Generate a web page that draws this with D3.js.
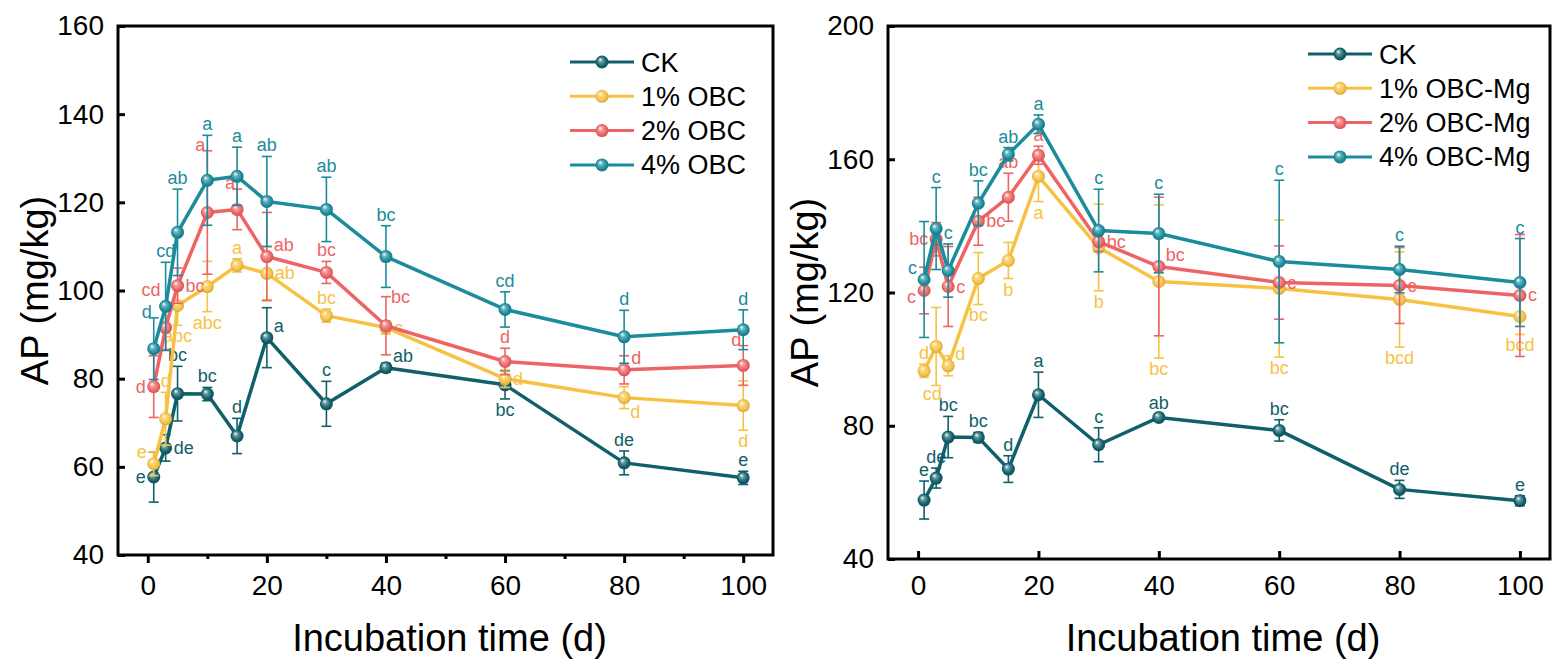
<!DOCTYPE html>
<html>
<head>
<meta charset="utf-8">
<script src="https://cdn.jsdelivr.net/npm/d3@7"></script>
<style>
  body { margin: 0; background: #fff; }
  svg { display: block; font-family: "Liberation Sans", Arial, sans-serif; }
</style>
</head>
<body>
<svg id="chart" width="1559" height="667"></svg>
<script>
// incubation days
const days = [1, 3, 5, 10, 15, 20, 30, 40, 60, 80, 100];

// CK (same in both panels)
const ckMean = [57.7, 64.3, 76.6, 76.5, 67.0, 89.3, 74.3, 82.5, 78.6, 60.9, 57.5];
const ckSd = [5.7, 3.0, 6.2, 1.5, 4.0, 6.8, 5.1, 1.0, 3.2, 2.7, 1.5];
const ckLetters = ['e', 'de', 'bc', 'bc', 'd', 'a', 'c', 'ab', 'bc', 'de', 'e'];

// left panel: OBC
const obc1Mean = [60.7, 70.9, 96.6, 100.9, 105.7, 103.9, 94.3, 91.6, 80.0, 75.7, 73.9];
const obc1Sd = [2.7, 6.0, 4.5, 5.7, 1.5, 6.0, 1.5, 1.5, 2.0, 2.5, 5.6];
const obc1Letters = ['e', 'd', 'abc', 'abc', 'a', 'ab', 'bc', 'c', 'd', 'd', 'd'];

const obc2Mean = [78.2, 91.6, 101.1, 117.7, 118.4, 107.7, 104.1, 92.0, 83.9, 82.0, 83.0];
const obc2Sd = [7.0, 5.0, 4.0, 14.0, 4.6, 10.0, 2.5, 6.6, 3.0, 3.2, 4.5];
const obc2Letters = ['d', 'cd', 'bc', 'a', 'a', 'ab', 'bc', 'bc', 'd', 'd', 'd'];

const obc4Mean = [86.8, 96.4, 113.2, 125.0, 125.9, 120.2, 118.4, 107.7, 95.7, 89.5, 91.1];
const obc4Sd = [7.0, 10.0, 9.8, 10.2, 6.6, 10.2, 7.3, 7.0, 4.0, 6.0, 4.5];
const obc4Letters = ['d', 'cd', 'ab', 'a', 'a', 'ab', 'ab', 'bc', 'cd', 'd', 'd'];

// right panel: OBC-Mg
const mg1Mean = [96.5, 103.8, 98.0, 124.2, 129.6, 154.9, 133.5, 123.3, 121.2, 117.9, 112.8];
const mg1Sd = [2.0, 11.7, 3.0, 7.8, 5.4, 7.6, 13.0, 23.0, 20.6, 14.3, 5.4];
const mg1Letters = ['d', 'cd', 'd', 'bc', 'b', 'a', 'b', 'bc', 'bc', 'bcd', 'bcd'];

const mg2Mean = [120.6, 136.0, 121.8, 141.4, 148.6, 161.2, 135.3, 127.8, 123.0, 122.1, 119.1];
const mg2Sd = [7.0, 5.0, 12.0, 7.2, 7.2, 2.7, 3.0, 20.8, 11.0, 11.4, 18.3];
const mg2Letters = ['c', 'bc', 'c', 'bc', 'ab', 'a', 'bc', 'bc', 'c', 'c', 'c'];

const mg4Mean = [123.9, 139.2, 126.6, 146.8, 161.5, 170.5, 138.6, 137.7, 129.3, 126.9, 123.0];
const mg4Sd = [17.4, 12.3, 8.0, 6.7, 2.0, 2.8, 12.4, 11.8, 24.4, 7.0, 13.2];
const mg4Letters = ['c', 'c', 'c', 'bc', 'ab', 'a', 'c', 'c', 'c', 'c', 'c'];

const leftLegend = ['CK', '1% OBC', '2% OBC', '4% OBC'];
const rightLegend = ['CK', '1% OBC-Mg', '2% OBC-Mg', '4% OBC-Mg'];
const xTicks = [0, 20, 40, 60, 80, 100];
const leftYTicks = [40, 60, 80, 100, 120, 140, 160];
const rightYTicks = [40, 80, 120, 160, 200];

// where each letter sits relative to its point (a above, b below, l/r side, u/d corners)
const ckSideL = ['l', 'r', 'a', 'a', 'a', 'ur', 'a', 'ur', 'b', 'a', 'a'];
const obc1Side = ['ul', 'a', 'b', 'b', 'a', 'r', 'a', 'r', 'r', 'dr', 'b'];
const obc2Side = ['l', 'uul', 'r', 'al', 'al', 'ur', 'a', 'ar', 'a', 'ur', 'al'];
const obc4Side = ['al', 'a', 'a', 'a', 'a', 'a', 'a', 'a', 'a', 'a', 'a'];
const ckSideR = ['a', 'a', 'a', 'a', 'a', 'a', 'a', 'a', 'a', 'a', 'a'];
const mg1Side = ['a', 'bl', 'ur', 'b', 'b', 'b', 'b', 'b', 'b', 'b', 'b'];
const mg2Side = ['dl', 'l', 'r', 'r', 'a', 'a', 'r', 'ur', 'r', 'r', 'r'];
const mg4Side = ['ul', 'a', 'a', 'a', 'a', 'a', 'a', 'a', 'a', 'a', 'a'];

const colors = ['#10606a', '#f7c244', '#ee6464', '#1b8c9c'];

const svg = d3.select('#chart');
const defs = svg.append('defs');

colors.forEach((c, i) => {
  const grad = defs.append('radialGradient')
    .attr('id', `ball${i}`)
    .attr('cx', '50%').attr('cy', '50%').attr('r', '55%')
    .attr('fx', '35%').attr('fy', '30%');
  grad.append('stop').attr('offset', '0%').attr('stop-color', '#ffffff');
  grad.append('stop').attr('offset', '30%').attr('stop-color', d3.interpolateRgb(c, '#fff')(0.35));
  grad.append('stop').attr('offset', '70%').attr('stop-color', c);
  grad.append('stop').attr('offset', '100%').attr('stop-color', d3.color(c).darker(0.6));
});

function drawPanel(p) {
  const x = d3.scaleLinear().domain([-5, 105]).range([p.left, p.right]);
  const y = d3.scaleLinear().domain(p.yDomain).range([p.bottom, p.top]);
  const g = svg.append('g');

  const yAxis = g.append('g')
    .attr('transform', `translate(${p.left},0)`)
    .call(d3.axisLeft(y).tickValues(p.yTicks).tickSizeInner(-7).tickSizeOuter(0).tickPadding(14));

  const xAxis = g.append('g')
    .attr('transform', `translate(0,${p.bottom})`)
    .call(d3.axisBottom(x).tickValues(xTicks).tickSizeInner(p.xTickSize).tickSizeOuter(0)
      .tickPadding(p.xTickSize > 0 ? 12 : 16));

  if (p.minor) {
    g.append('g')
      .attr('transform', `translate(0,${p.bottom})`)
      .call(d3.axisBottom(x).tickValues([10, 30, 50, 70, 90]).tickSize(4).tickFormat(''))
      .call(a => a.select('.domain').remove())
      .selectAll('line').attr('stroke-width', 3);
  }

  [yAxis, xAxis].forEach(a => {
    a.select('.domain').remove();
    a.selectAll('line').attr('stroke-width', 3);
    a.selectAll('text').attr('font-size', 28).attr('fill', '#000')
      .attr('font-family', '"Liberation Sans", Arial, sans-serif');
  });

  g.append('rect')
    .attr('x', p.left).attr('y', p.top)
    .attr('width', p.right - p.left).attr('height', p.bottom - p.top)
    .attr('fill', 'none').attr('stroke', '#000').attr('stroke-width', 3);

  const line = d3.line().x(d => x(d.t)).y(d => y(d.v));

  p.series.forEach((s, si) => {
    const pts = days.map((t, i) => ({ t, v: s.mean[i], sd: s.sd[i], lab: s.letters[i], side: s.side[i] }));
    const col = colors[si];
    const sg = g.append('g');

    const eb = sg.selectAll('.eb').data(pts).enter().append('g')
      .attr('stroke', col).attr('stroke-width', 1.6);
    eb.append('line')
      .attr('x1', d => x(d.t)).attr('x2', d => x(d.t))
      .attr('y1', d => y(d.v - d.sd)).attr('y2', d => y(d.v + d.sd));
    eb.append('line')
      .attr('x1', d => x(d.t) - 5).attr('x2', d => x(d.t) + 5)
      .attr('y1', d => y(d.v + d.sd)).attr('y2', d => y(d.v + d.sd));
    eb.append('line')
      .attr('x1', d => x(d.t) - 5).attr('x2', d => x(d.t) + 5)
      .attr('y1', d => y(d.v - d.sd)).attr('y2', d => y(d.v - d.sd));

    sg.append('path').datum(pts)
      .attr('d', line).attr('fill', 'none')
      .attr('stroke', col).attr('stroke-width', 3.5).attr('stroke-linejoin', 'round');

    sg.selectAll('circle').data(pts).enter().append('circle')
      .attr('cx', d => x(d.t)).attr('cy', d => y(d.v)).attr('r', 6.5)
      .attr('fill', `url(#ball${si})`);

    sg.selectAll('.lab').data(pts).enter().append('text')
      .attr('font-size', 18).attr('fill', col)
      .each(function (d) {
        const px = x(d.t), py = y(d.v), top = y(d.v + d.sd), bot = y(d.v - d.sd);
        let tx = px, ty = py, anchor = 'middle';
        switch (d.side) {
          case 'a': ty = top - 5; break;
          case 'b': ty = bot + 17; break;
          case 'bl': tx = px - 4; ty = bot + 15; break;
          case 'l': tx = px - 8; ty = py + 6; anchor = 'end'; break;
          case 'r': tx = px + 8; ty = py + 6; anchor = 'start'; break;
          case 'al': tx = px - 2; ty = top; anchor = 'end'; break;
          case 'ar': tx = px + 5; ty = top + 6; anchor = 'start'; break;
          case 'ul': tx = px - 7; ty = py - 6; anchor = 'end'; break;
          case 'uul': tx = px - 5; ty = py - 32; anchor = 'end'; break;
          case 'dl': tx = px - 8; ty = py + 12; anchor = 'end'; break;
          case 'ur': tx = px + 7; ty = py - 6; anchor = 'start'; break;
          case 'dr': tx = px + 6; ty = py + 20; anchor = 'start'; break;
        }
        d3.select(this).attr('x', tx).attr('y', ty).attr('text-anchor', anchor).text(d.lab);
      });
  });

  // legend
  const lg = g.append('g');
  p.legend.forEach((name, i) => {
    const cy = p.legendY + i * 34.3;
    lg.append('line')
      .attr('x1', p.legendX).attr('x2', p.legendX + 64)
      .attr('y1', cy).attr('y2', cy)
      .attr('stroke', colors[i]).attr('stroke-width', 3);
    lg.append('circle')
      .attr('cx', p.legendX + 32).attr('cy', cy).attr('r', 6.5)
      .attr('fill', `url(#ball${i})`);
    lg.append('text')
      .attr('x', p.legendX + 71).attr('y', cy + 9.5)
      .attr('font-size', 27).attr('fill', '#000')
      .text(name);
  });

  g.append('text')
    .attr('transform', `translate(${p.left - 70},${(p.top + p.bottom) / 2}) rotate(-90)`)
    .attr('text-anchor', 'middle').attr('font-size', 38).attr('fill', '#000')
    .text('AP (mg/kg)');

  g.append('text')
    .attr('x', (p.left + p.right) / 2 + 4).attr('y', 651)
    .attr('text-anchor', 'middle').attr('font-size', 38).attr('fill', '#000')
    .text('Incubation time (d)');
}

drawPanel({
  left: 118, right: 773, top: 26, bottom: 555,
  yDomain: [40, 160], yTicks: leftYTicks, xTickSize: 8, minor: true,
  legend: leftLegend, legendX: 570, legendY: 62,
  series: [
    { mean: ckMean, sd: ckSd, letters: ckLetters, side: ckSideL },
    { mean: obc1Mean, sd: obc1Sd, letters: obc1Letters, side: obc1Side },
    { mean: obc2Mean, sd: obc2Sd, letters: obc2Letters, side: obc2Side },
    { mean: obc4Mean, sd: obc4Sd, letters: obc4Letters, side: obc4Side }
  ]
});

drawPanel({
  left: 888, right: 1550, top: 26, bottom: 559,
  yDomain: [40, 200], yTicks: rightYTicks, xTickSize: -8, minor: false,
  legend: rightLegend, legendX: 1308, legendY: 54,
  series: [
    { mean: ckMean, sd: ckSd, letters: ckLetters, side: ckSideR },
    { mean: mg1Mean, sd: mg1Sd, letters: mg1Letters, side: mg1Side },
    { mean: mg2Mean, sd: mg2Sd, letters: mg2Letters, side: mg2Side },
    { mean: mg4Mean, sd: mg4Sd, letters: mg4Letters, side: mg4Side }
  ]
});
</script>
</body>
</html>
